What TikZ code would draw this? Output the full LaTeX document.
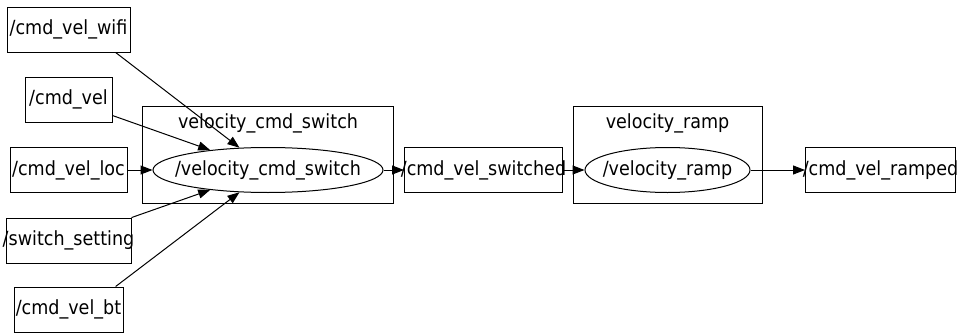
\documentclass[tikz,border=0pt]{standalone}
\usepackage{fontspec}
\setmainfont{DejaVu Sans Condensed}
\usetikzlibrary{shapes.geometric, arrows.meta}

% text is centred over the node without widening it
\newcommand{\nm}[1]{\makebox[0pt]{#1}}

\begin{document}
\begin{tikzpicture}[
        x=1pt, y=-1pt,
        every node/.style={inner sep=0pt, font=\fontsize{19.5}{22}\selectfont},
        topic/.style={draw, rectangle, minimum height=45pt, line width=1pt},
        rosnode/.style={draw, ellipse, minimum height=45pt, line width=1pt},
        group/.style={draw, rectangle, minimum height=97pt, line width=1pt},
        ar/.style={-{Triangle[length=12pt, width=9pt]}, line width=1pt},
    ]
    \useasboundingbox (0,0) rectangle (961,332);

    % namespaces
    \node[group, minimum width=251pt](swgrp) at (267.5,154.5) {};
    \node[](swlbl) at (268,123) {velocity\_cmd\_switch};
    \node[group, minimum width=189pt](rampgrp) at (667.5,154.5) {};
    \node[](ramplbl) at (667.5,123) {velocity\_ramp};

    % nodes
    \node[rosnode, minimum width=230pt](sw) at (268,170) {\nm{/velocity\_cmd\_switch}};
    \node[rosnode, minimum width=165pt](ramp) at (667.5,170) {\nm{/velocity\_ramp}};

    % topics
    \node[topic, minimum width=123pt](wifi) at (68.5,29.5) {\nm{/cmd\_vel\_wifi}};
    \node[topic, minimum width=87pt](vel) at (68.5,99.5) {\nm{/cmd\_vel}};
    \node[topic, minimum width=117pt](loc) at (68.5,170) {\nm{/cmd\_vel\_loc}};
    \node[topic, minimum width=125pt](sset) at (68.5,240.5) {\nm{/switch\_setting}};
    \node[topic, minimum width=109pt](bt) at (68.5,309.5) {\nm{/cmd\_vel\_bt}};
    \node[topic, minimum width=158pt](switched) at (483.5,170) {\nm{/cmd\_vel\_switched}};
    \node[topic, minimum width=150pt](ramped) at (880.5,170) {\nm{/cmd\_vel\_ramped}};

    \path[ar]
    (wifi.-26) edge (sw.142)
    (vel.-20) edge (sw.161)
    (loc) edge (sw)
    (sset.20) edge (sw.199)
    (bt.26) edge (sw.218)

    (sw) edge (switched)
    (switched) edge (ramp)
    (ramp) edge (ramped)
    ;
\end{tikzpicture}
\end{document}
